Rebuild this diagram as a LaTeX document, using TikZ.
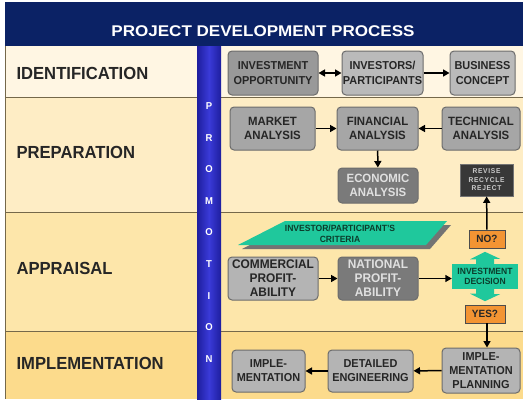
\documentclass[tikz,border=0pt]{standalone}
\usepackage{fontspec}
\setmainfont[FakeStretch=0.95]{Liberation Sans}
\newfontfamily\titlefont[FakeStretch=1.1]{Liberation Sans}
\newfontfamily\spacedfont[LetterSpace=10,FakeStretch=0.95]{Liberation Sans}
\usepackage{xcolor}
\usepackage{tikz}
\usetikzlibrary{arrows.meta,calc,positioning}

\definecolor{navy}{HTML}{0B2265}
\definecolor{promo}{HTML}{3A3AD8}
\definecolor{promodark}{HTML}{1E1E9E}
\definecolor{bandA}{HTML}{FFF6E3}
\definecolor{bandB}{HTML}{FEEDC5}
\definecolor{bandC}{HTML}{FDE6AA}
\definecolor{bandD}{HTML}{FCDB8C}
\definecolor{bandline}{HTML}{75684A}
\definecolor{boxgray}{HTML}{B4B4B4}
\definecolor{midgray}{HTML}{A6A6A6}
\definecolor{darkgray}{HTML}{7A7A7A}
\definecolor{boxedge}{HTML}{6C6C6C}
\definecolor{boxtext}{HTML}{262626}
\definecolor{teal}{HTML}{1FC89C}
\definecolor{tealtext}{HTML}{0B3D2C}
\definecolor{orangebox}{HTML}{F39433}

\begin{document}
\begin{tikzpicture}[x=1pt,y=-1pt,
    box/.style={draw=boxedge, fill=boxgray, rounded corners=4pt, line width=1pt,
        align=center, inner sep=0pt, text=boxtext, font=\bfseries\fontsize{12}{14.5}\selectfont},
    midbox/.style={box, fill=midgray},
    darkbox/.style={box, fill=darkgray, text=white!88!black},
    stage/.style={anchor=west, font=\bfseries\fontsize{17.5}{17.5}\selectfont, text=boxtext},
    tag/.style={draw=black!70, fill=orangebox, line width=0.8pt, inner sep=0pt,
        font=\bfseries\fontsize{10.5}{11}\selectfont, text=boxtext},
    arr/.style={-{Triangle[length=6.5pt,width=7pt]}, line width=1.5pt, black},
    divider/.style={bandline, line width=0.8pt}
]
    \useasboundingbox (0,0) rectangle (529,399);

    % bands
    \fill[navy] (5,2) rectangle (523,46);
    \fill[bandA] (5,46) rectangle (523,97);
    \fill[bandB] (5,97) rectangle (523,212);
    \fill[bandC] (5,212) rectangle (523,331);
    \fill[bandD] (5,331) rectangle (523,399);
    \draw[divider] (5,97) -- (523,97);
    \draw[divider] (5,212) -- (523,212);
    \draw[divider] (5,331) -- (523,331);
    \draw[divider] (5,46) -- (5,399);

    % title
    \node[text=white, font=\titlefont\bfseries\fontsize{15.5}{16}\selectfont] (title) at (263,31) {PROJECT DEVELOPMENT PROCESS};

    % stage labels
    \node[stage] (identification) at (13,73) {IDENTIFICATION};
    \node[stage] (preparation) at (13,152) {PREPARATION};
    \node[stage] (appraisal) at (13,268) {APPRAISAL};
    \node[stage] (implementation) at (13,363) {IMPLEMENTATION};

    % promotion bar
    \shade[left color=promodark, right color=promodark, middle color=promo] (197,46) rectangle (221,399);
    \foreach \ch [count=\i from 0] in {P,R,O,M,O,T,I,O,N}
        \node[text=white, font=\bfseries\fontsize{10}{10}\selectfont] (promo\i) at (209,{106+31.6*\i}) {\ch};

    % identification
    \node[box, fill=black!40, font=\bfseries\fontsize{11.5}{14.5}\selectfont, minimum width=90pt, minimum height=44pt] (opp) at (273,73) {INVESTMENT\\OPPORTUNITY};
    \node[box, fill=black!27, font=\bfseries\fontsize{11.5}{14.5}\selectfont, minimum width=81pt, minimum height=44pt] (inv) at (382.5,73) {INVESTORS/\\PARTICIPANTS};
    \node[box, fill=black!27, font=\bfseries\fontsize{11.5}{14.5}\selectfont, minimum width=65pt, minimum height=44pt] (bus) at (482.5,73) {BUSINESS\\CONCEPT};
    \draw[arr, {Triangle[length=6.5pt,width=7pt]}-{Triangle[length=6.5pt,width=7pt]}] (opp) -- (inv);
    \draw[arr] (inv) -- (bus);

    % preparation
    \node[midbox, minimum width=85pt, minimum height=43pt] (mkt) at (272.5,128.5) {MARKET\\ANALYSIS};
    \node[midbox, minimum width=81pt, minimum height=43pt] (fin) at (377.5,128.5) {FINANCIAL\\ANALYSIS};
    \node[midbox, minimum width=78pt, minimum height=43pt] (tech) at (481,128.5) {TECHNICAL\\ANALYSIS};
    \node[darkbox, minimum width=80pt, minimum height=35pt] (eco) at (378,185.5) {ECONOMIC\\ANALYSIS};
    \node[draw=black!55, fill=black!78, line width=0.8pt, inner sep=0pt, align=center,
        text=white!80!black, font=\spacedfont\bfseries\fontsize{7}{8.5}\selectfont,
        minimum width=53pt, minimum height=32pt] (rev) at (486.5,180) {REVISE\\RECYCLE\\REJECT};
    \draw[arr] (mkt) -- (fin);
    \draw[arr] (tech) -- (fin);
    \draw[arr] (fin) -- (eco);

    % appraisal
    \fill[black!55] (289,225) -- (451,225) -- (430,249) -- (242,249) -- cycle;
    \fill[teal] (285,221) -- (447,221) -- (426,245) -- (238,245) -- cycle;
    \node[align=center, text=tealtext, font=\bfseries\fontsize{9}{10.5}\selectfont] (crit) at (340,234) {INVESTOR/PARTICIPANT'S\\CRITERIA};
    \node[box, font=\bfseries\fontsize{12.5}{14}\selectfont, minimum width=90pt, minimum height=43pt] (com) at (273,278.5) {COMMERCIAL\\PROFIT-\\ABILITY};
    \node[darkbox, font=\bfseries\fontsize{12.5}{14}\selectfont, minimum width=80pt, minimum height=43pt] (nat) at (378,278.5) {NATIONAL\\PROFIT-\\ABILITY};
    \node[fill=teal, inner sep=0pt, minimum width=66pt, minimum height=25pt, align=center,
        text=tealtext, font=\bfseries\fontsize{9}{10}\selectfont] (dec) at (485,276.5) {INVESTMENT\\DECISION};
    \fill[teal] ($(dec.north)+(-9,0.5)$) -- ++(0,-5) -- ++(-6,0) -- ($(dec.north)+(0,-12)$)
        -- ($(dec.north)+(15,-5)$) -- ++(-6,0) -- ++(0,5.5) -- cycle;
    \fill[teal] ($(dec.south)+(-9,-0.5)$) -- ++(0,5) -- ++(-6,0) -- ($(dec.south)+(0,12)$)
        -- ($(dec.south)+(15,5)$) -- ++(-6,0) -- ++(0,-5.5) -- cycle;
    \node[tag, minimum width=36pt, minimum height=18pt] (no) at (487,239) {NO?};
    \node[tag, minimum width=40pt, minimum height=18pt] (yes) at (485,314) {YES?};
    \draw[arr] (com) -- (nat);
    \draw[arr] (nat.east) -- (nat.east -| dec.west);
    \draw[arr] (no) -- (rev);

    % implementation
    \node[box, font=\bfseries\fontsize{11.5}{14}\selectfont, minimum width=73pt, minimum height=42pt] (imp) at (268.5,371) {IMPLE-\\MENTATION};
    \node[box, font=\bfseries\fontsize{11.5}{14}\selectfont, minimum width=85pt, minimum height=42pt] (det) at (370.5,371) {DETAILED\\ENGINEERING};
    \node[box, font=\bfseries\fontsize{11.5}{14}\selectfont, minimum width=78pt, minimum height=45pt] (plan) at (481,370.5) {IMPLE-\\MENTATION\\PLANNING};
    \draw[arr] (no.south |- yes.south) -- (no.south |- plan.north);
    \draw[arr] (plan) -- (det);
    \draw[arr] (det) -- (imp);
\end{tikzpicture}
\end{document}
